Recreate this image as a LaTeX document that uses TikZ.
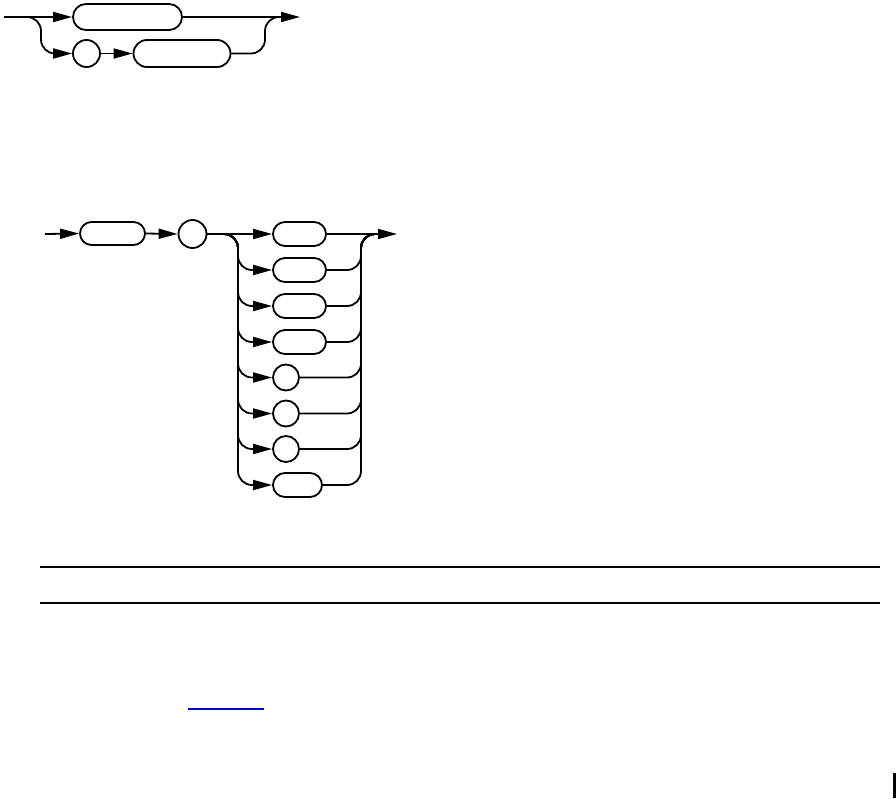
\documentclass[tikz,border=0pt]{standalone}
\usepackage{tikz}
\usetikzlibrary{shapes.misc,arrows.meta}

\begin{document}
\begin{tikzpicture}[x=1pt,y=-1pt,line width=1.8pt,
  term/.style={draw,rounded rectangle,minimum height=24pt,inner sep=0pt},
  circ/.style={draw,circle,minimum size=26pt,inner sep=0pt},
  arr/.style={-{Triangle[length=19pt,width=10pt]}},
  curvy/.style={rounded corners=14pt}]
  \useasboundingbox (0,0) rectangle (896,798);
  % first rule
  \coordinate (in1) at (4,17); \coordinate (out1) at (300,17);
  \coordinate (lb1) at (41,53.5); \coordinate (rb1) at (265,17); \coordinate (j1) at (282,17);
  \node[term,minimum width=109pt,minimum height=26pt](opt) at (127.5,17) {};
  \node[circ,minimum size=27pt](sep) at (86.5,53.5) {};
  \node[term,minimum width=97pt,minimum height=27pt](alt) at (182,53.5) {};
  \draw[arr](in1)--(opt.west);\draw[arr](opt.east)--(out1);
  \draw[arr,curvy](in1)-|(lb1)--(sep.west);\draw[arr](sep.east)--(alt.west);
  \draw[curvy](alt.east)-|(rb1)--(j1);
  % second rule
  \coordinate (in2) at (45,234); \coordinate (out2) at (397,234);
  \coordinate (rb2) at (361,234); \coordinate (j2) at (378,234);
  \node[term,minimum width=65pt,minimum height=23pt](kw) at (112.5,233.5) {};
  \node[circ,minimum size=28pt](dot) at (192.5,234) {};
  \node[term,minimum width=53pt](r1) at (299.5,234) {};
  \node[term,minimum width=53pt](r2) at (299.5,270) {};
  \node[term,minimum width=53pt](r3) at (299.5,306) {};
  \node[term,minimum width=53pt](r4) at (299.5,342) {};
  \node[circ](r5) at (286,377.5) {};
  \node[circ](r6) at (286,413.5) {};
  \node[circ](r7) at (286,449) {};
  \node[term,minimum width=49pt](r8) at (297.5,485) {};
  \coordinate (l2) at (238,270); \coordinate (l3) at (238,306); \coordinate (l4) at (238,342);
  \coordinate (l5) at (238,377.5); \coordinate (l6) at (238,413.5); \coordinate (l7) at (238,449);
  \coordinate (l8) at (238,485);
  \draw[arr](in2)--(kw.west);\draw[arr](kw.east)--(dot.west);\draw[arr](dot.east)--(r1.west);\draw[arr](r1.east)--(out2);
  \draw[arr,curvy](dot.east)-|(l2)--(r2.west);\draw[arr,curvy](dot.east)-|(l3)--(r3.west);
  \draw[arr,curvy](dot.east)-|(l4)--(r4.west);\draw[arr,curvy](dot.east)-|(l5)--(r5.west);
  \draw[arr,curvy](dot.east)-|(l6)--(r6.west);\draw[arr,curvy](dot.east)-|(l7)--(r7.west);
  \draw[arr,curvy](dot.east)-|(l8)--(r8.west);
  \draw[curvy](r2.east)-|(rb2)--(j2);\draw[curvy](r3.east)-|(rb2)--(j2);\draw[curvy](r4.east)-|(rb2)--(j2);
  \draw[curvy](r5.east)-|(rb2)--(j2);\draw[curvy](r6.east)-|(rb2)--(j2);\draw[curvy](r7.east)-|(rb2)--(j2);
  \draw[curvy](r8.east)-|(rb2)--(j2);
  % page furniture
  \draw[line width=1.2pt](40,567)--(880,567);\draw[line width=1.2pt](40,603)--(880,603);
  \draw[line width=1.2pt,blue!85!black](188,709)--(264,709);
  \fill(893,773) rectangle (896,798);
\end{tikzpicture}
\end{document}
